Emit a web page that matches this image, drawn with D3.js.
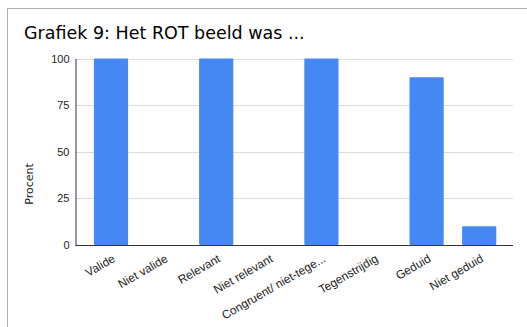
<!DOCTYPE html>
<html>
<head>
<meta charset="utf-8">
<script src="https://cdn.jsdelivr.net/npm/d3@7"></script>
<style>
	body { margin: 0; background: #fff; }
	svg { display: block; font-family: Verdana, "DejaVu Sans", sans-serif; }
	.graph-title { font-size: 17.5px; fill: #000; }
	.tick text { font-size: 11px; fill: #222; }
	.xlab .tick text { font-size: 11.8px; }
	.yaxislabel { font-size: 11px; fill: #222; }
</style>
</head>
<body>
<svg id="chartsvg"></svg>
<script>
var categories = ["Valide", "Niet valide", "Relevant", "Niet relevant", "Congruent/ niet-tege...", "Tegenstrijdig", "Geduid", "Niet geduid"];
var values = [100, 0, 100, 0, 100, 0, 90, 10];
var yticks = [0, 25, 50, 75, 100];

var width0 = 527, height0 = 327;
//plot box: axes lines, bands sit a bit inside them
var plot = {left: 75.5, right: 513, top: 58.5, bottom: 245};

var svg = d3.select("#chartsvg").attr("width", width0).attr("height", height0);

//frame round the chart
svg.append("rect")
	.attr("x", 7.5).attr("y", 8.5)
	.attr("width", width0).attr("height", height0)
	.attr("fill", "none").attr("stroke", "#b0b0b0");

svg.append("text").attr("class", "graph-title")
	.attr("x", 24).attr("y", 39)
	.text("Grafiek 9: Het ROT beeld was ...");

var x = d3.scaleBand().domain(categories).range([84.7, 505.5]).paddingInner(0.35).paddingOuter(0.175);
var y = d3.scaleLinear().domain([0, 100]).range([plot.bottom, plot.top]);

//gridlines
svg.append("g").selectAll("line").data(yticks.slice(1)).join("line")
	.attr("x1", plot.left).attr("x2", plot.right)
	.attr("y1", function(d) { return Math.round(y(d)) + 0.5; })
	.attr("y2", function(d) { return Math.round(y(d)) + 0.5; })
	.attr("stroke", "#dcdcdc");

//bars
svg.append("g").selectAll("rect").data(values).join("rect")
	.attr("x", function(d, i) { return x(categories[i]); })
	.attr("width", x.bandwidth())
	.attr("y", function(d) { return y(d); })
	.attr("height", function(d) { return plot.bottom - y(d); })
	.attr("rx", 1)
	.attr("fill", "#4688f1");

//y axis
var yax = svg.append("g").attr("transform", "translate(" + plot.left + ",0)")
	.call(d3.axisLeft(y).tickValues(yticks).tickSize(0).tickPadding(6));
yax.select(".domain").attr("stroke", "#333");

//x axis
var xax = svg.append("g").attr("class", "xlab").attr("transform", "translate(0," + plot.bottom + ")")
	.call(d3.axisBottom(x).tickSize(0));
xax.select(".domain").attr("d", "M" + plot.left + ",0.5H" + plot.right).attr("stroke", "#333");
xax.selectAll(".tick text")
	.attr("text-anchor", "end")
	.attr("dy", "0")
	.attr("transform", "translate(5,16) rotate(-30)")
	.attr("y", 0);

svg.append("text").attr("class", "yaxislabel")
	.attr("text-anchor", "middle")
	.attr("transform", "translate(33,184) rotate(-90)")
	.text("Procent");
</script>
</body>
</html>
